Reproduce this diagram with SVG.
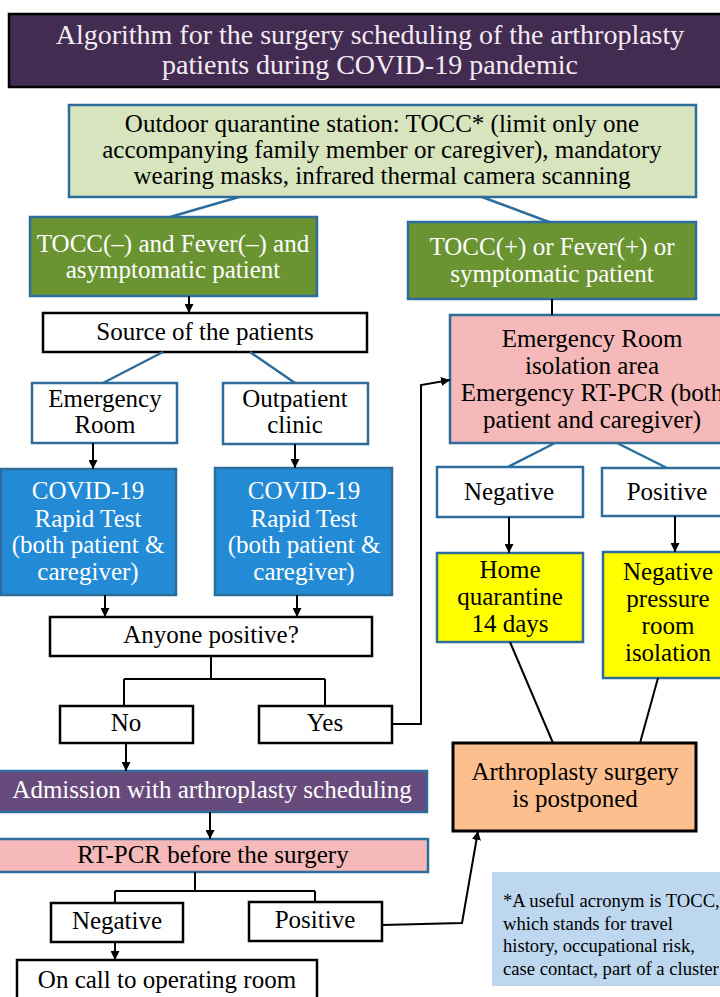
<svg xmlns="http://www.w3.org/2000/svg" width="720" height="997" viewBox="0 0 720 997">
<defs>
<marker id="arr" viewBox="0 0 10 10" refX="10" refY="5" markerWidth="9" markerHeight="9" markerUnits="userSpaceOnUse" orient="auto"><path d="M0,0 L10,5 L0,10 z" fill="#000"/></marker>
<style>
text{font-family:"Liberation Serif","Times New Roman",serif;font-size:25px;text-anchor:middle;fill:#000}
.wt{fill:#fff}
.bb{stroke:#2e6d9b;stroke-width:2.5}
.bk{stroke:#000;stroke-width:2.5}
.cb{fill:none;stroke:#2e6d9b;stroke-width:2.5}
.ck{fill:none;stroke:#000;stroke-width:2}
.ca{fill:none;stroke:#000;stroke-width:2;marker-end:url(#arr)}
.note{text-anchor:start;font-size:18.6px}
</style>
</defs>
<rect width="720" height="997" fill="#fff"/>

<g id="title">
<rect x="9" y="14" width="720" height="73" fill="#432c51" stroke="#000" stroke-width="2.5"/>
<text x="370" y="44" style="font-size:28px;fill:#f3ebf3">Algorithm for the surgery scheduling of the arthroplasty</text>
<text x="370" y="74" style="font-size:28px;fill:#f3ebf3">patients during COVID-19 pandemic</text>
</g>

<g id="outdoor">
<rect x="69" y="105" width="627" height="92" fill="#d7e4bd" class="bb"/>
<text x="382" y="132">Outdoor quarantine station: TOCC* (limit only one</text>
<text x="382" y="158">accompanying family member or caregiver), mandatory</text>
<text x="382" y="184">wearing masks, infrared thermal camera scanning</text>
</g>

<g id="neg-screen">
<rect x="30" y="217" width="287" height="79" fill="#6a9432" class="bb"/>
<text x="173" y="252" class="wt">TOCC(–) and Fever(–) and</text>
<text x="173" y="278" class="wt">asymptomatic patient</text>
</g>

<g id="pos-screen">
<rect x="408" y="222" width="288" height="77" fill="#6a9432" class="bb"/>
<text x="552" y="255" class="wt">TOCC(+) or Fever(+) or</text>
<text x="552" y="282" class="wt">symptomatic patient</text>
</g>

<g id="source">
<rect x="43" y="313" width="324" height="39" fill="#fff" class="bk"/>
<text x="205" y="340">Source of the patients</text>
</g>

<g id="er">
<rect x="32" y="383" width="145" height="60" fill="#fff" class="bb"/>
<text x="105" y="407">Emergency</text>
<text x="105" y="433">Room</text>
</g>

<g id="opd">
<rect x="223" y="383" width="145" height="61" fill="#fff" class="bb"/>
<text x="295" y="407">Outpatient</text>
<text x="295" y="433">clinic</text>
</g>

<g id="er-isolation">
<rect x="450" y="315" width="284" height="128" fill="#f4b9b8" class="bb"/>
<text x="592" y="347">Emergency Room</text>
<text x="592" y="374">isolation area</text>
<text x="592" y="401">Emergency RT-PCR (both</text>
<text x="592" y="428">patient and caregiver)</text>
</g>

<g id="rapid-left">
<rect x="1" y="469" width="175" height="126" fill="#238ad6" class="bb"/>
<text x="88" y="499" class="wt">COVID-19</text>
<text x="88" y="527" class="wt">Rapid Test</text>
<text x="88" y="553" class="wt">(both patient &amp;</text>
<text x="88" y="580" class="wt">caregiver)</text>
</g>

<g id="rapid-right">
<rect x="215" y="468" width="177" height="127" fill="#238ad6" class="bb"/>
<text x="304" y="499" class="wt">COVID-19</text>
<text x="304" y="527" class="wt">Rapid Test</text>
<text x="304" y="553" class="wt">(both patient &amp;</text>
<text x="304" y="580" class="wt">caregiver)</text>
</g>

<g id="anyone">
<rect x="50" y="617" width="322" height="39" fill="#fff" class="bk"/>
<text x="211" y="643">Anyone positive?</text>
</g>

<g id="no">
<rect x="60" y="706" width="133" height="37" fill="#fff" class="bk"/>
<text x="126" y="731">No</text>
</g>

<g id="yes">
<rect x="259" y="706" width="133" height="37" fill="#fff" class="bk"/>
<text x="325" y="731">Yes</text>
</g>

<g id="er-negative">
<rect x="437" y="467" width="146" height="50" fill="#fff" class="bb"/>
<text x="509" y="500">Negative</text>
</g>

<g id="er-positive">
<rect x="602" y="468" width="131" height="48" fill="#fff" class="bb"/>
<text x="667" y="500">Positive</text>
</g>

<g id="home">
<rect x="437" y="553" width="146" height="89" fill="#ffff00" class="bb"/>
<text x="510" y="578">Home</text>
<text x="510" y="605">quarantine</text>
<text x="510" y="632">14 days</text>
</g>

<g id="neg-pressure">
<rect x="603" y="552" width="130" height="126" fill="#ffff00" class="bb"/>
<text x="668" y="580">Negative</text>
<text x="668" y="607">pressure</text>
<text x="668" y="634">room</text>
<text x="668" y="661">isolation</text>
</g>

<g id="postponed">
<rect x="453" y="743" width="243" height="88" fill="#fdbf8e" stroke="#000" stroke-width="3"/>
<text x="575" y="780">Arthroplasty surgery</text>
<text x="575" y="807">is postponed</text>
</g>

<g id="admission">
<rect x="-2" y="771" width="429" height="41" fill="#674b7c" class="bb"/>
<text x="212" y="798" class="wt">Admission with arthroplasty scheduling</text>
</g>

<g id="rtpcr">
<rect x="-2" y="839" width="430" height="33" fill="#f4b9b8" class="bb"/>
<text x="213" y="863">RT-PCR before the surgery</text>
</g>

<g id="pcr-negative">
<rect x="51" y="903" width="132" height="39" fill="#fff" class="bk"/>
<text x="117" y="929">Negative</text>
</g>

<g id="pcr-positive">
<rect x="249" y="902" width="133" height="39" fill="#fff" class="bk"/>
<text x="315" y="928">Positive</text>
</g>

<g id="oncall">
<rect x="17" y="960" width="300" height="45" fill="#fff" class="bk"/>
<text x="167" y="988">On call to operating room</text>
</g>

<g id="footnote">
<rect x="492" y="872" width="240" height="114" fill="#bdd7ee"/>
<text x="503" y="907" class="note">*A useful acronym is TOCC,</text>
<text x="503" y="930" class="note">which stands for travel</text>
<text x="503" y="952" class="note">history, occupational risk,</text>
<text x="503" y="975" class="note">case contact, part of a cluster</text>
</g>

<g id="connectors">
<path class="cb" d="M239,197 L170,217"/>
<path class="cb" d="M482,197 L549,222"/>
<path class="cb" d="M163,352 L103,383"/>
<path class="cb" d="M250,352 L295,383"/>
<path class="cb" d="M555,443 L508,467"/>
<path class="cb" d="M617,443 L667,468"/>
<path class="ck" d="M552,299 V315"/>
<path class="ck" d="M211,656 V679 M124,679 H325 M124,679 V706 M325,679 V706"/>
<path class="ck" d="M510,642 L553,743"/>
<path class="ck" d="M658,678 L640,743"/>
<path class="ck" d="M195,872 V891 M115,891 H315 M115,891 V903 M315,891 V902"/>
<path class="ca" d="M189,296 V313"/>
<path class="ca" d="M93,443 V469"/>
<path class="ca" d="M295,444 V468"/>
<path class="ca" d="M105,595 V617"/>
<path class="ca" d="M297,595 V617"/>
<path class="ca" d="M392,724 H421 V385 L450,380"/>
<path class="ca" d="M509,517 V553"/>
<path class="ca" d="M675,516 V552"/>
<path class="ca" d="M126,743 V771"/>
<path class="ca" d="M210,812 V839"/>
<path class="ca" d="M115,942 V960"/>
<path class="ca" d="M382,925 L462,923 L478,831"/>
</g>
</svg>
